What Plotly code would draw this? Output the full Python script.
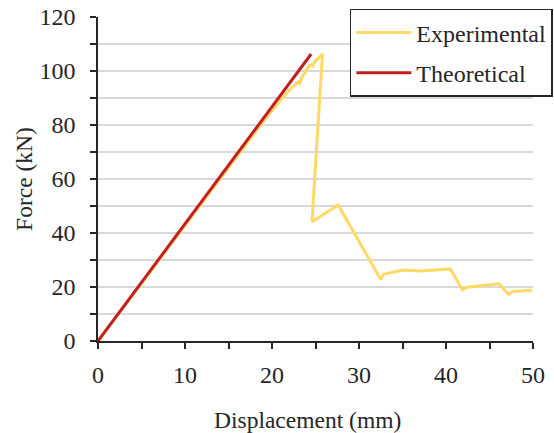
import plotly.graph_objects as go

exp_x = [0, 10, 15, 18, 20, 21.5, 22.5, 23.0, 23.2, 23.4, 23.8, 24.2, 24.5, 24.7, 24.9, 25.3, 25.8,
         24.6, 27.6, 32.5, 32.8, 35.1, 37.0, 40.5, 41.9, 42.4, 44.3, 46.1, 47.2, 47.7, 49.9]
exp_y = [0, 43.0, 64.4, 77.0, 85.3, 91.2, 94.6, 96.0, 95.4, 97.4, 99.4, 101.6, 102.4, 101.8, 103.4, 104.6, 106.3,
         44.2, 50.4, 22.8, 24.7, 26.3, 25.9, 26.7, 18.9, 19.9, 20.7, 21.2, 17.3, 18.3, 18.8]

theo_x = [0, 24.5]
theo_y = [0, 106.3]

x_ticks = [0, 5, 10, 15, 20, 25, 30, 35, 40, 45, 50]
x_labels = ["0", "", "10", "", "20", "", "30", "", "40", "", "50"]
y_ticks = [0, 10, 20, 30, 40, 50, 60, 70, 80, 90, 100, 110, 120]
y_labels = ["0", "", "20", "", "40", "", "60", "", "80", "", "100", "", "120"]

x_title = "Displacement (mm)"
y_title = "Force (kN)"

FONT = "Liberation Serif"
INK = "#262626"

fig = go.Figure()
fig.add_trace(go.Scatter(x=exp_x, y=exp_y, mode="lines", name="Experimental",
                         line=dict(color="#FFD966", width=3), legendgroup="a"))
fig.add_trace(go.Scatter(x=theo_x, y=theo_y, mode="lines", name="Theoretical",
                         line=dict(color="#C0211F", width=3), legendgroup="b"))

fig.add_annotation(text=x_title, xref="paper", yref="paper", x=0.4816, y=(341 - 420) / 324,
                   xanchor="center", yanchor="middle", showarrow=False,
                   font=dict(family=FONT, size=23.5, color=INK))

fig.update_layout(
    width=554, height=433,
    margin=dict(l=98, r=21, t=17, b=92, autoexpand=False),
    paper_bgcolor="white", plot_bgcolor="white",
    font=dict(family=FONT, size=24, color=INK),
    legend=dict(x=0.579, y=1.025, xanchor="left", yanchor="top",
                bordercolor=INK, borderwidth=1.5, bgcolor="white",
                font=dict(family=FONT, size=24, color=INK),
                traceorder="grouped", tracegroupgap=6, itemwidth=55),
    xaxis=dict(range=[0, 50], tickvals=x_ticks, ticktext=x_labels,
               showgrid=False, zeroline=False,
               showline=True, linecolor=INK, linewidth=1.5,
               ticks="outside", ticklen=6, tickwidth=1.5, tickcolor=INK,
               ticklabelstandoff=5,
               tickfont=dict(family=FONT, size=24, color=INK)),
    yaxis=dict(range=[0, 120], tickvals=y_ticks, ticktext=y_labels,
               showgrid=True, gridcolor="#D9D9D9", gridwidth=1.5, zeroline=False,
               showline=True, linecolor=INK, linewidth=1.5,
               ticks="outside", ticklen=6, tickwidth=1.5, tickcolor=INK,
               ticklabelstandoff=10,
               tickfont=dict(family=FONT, size=24, color=INK),
               title=dict(text=y_title, standoff=0, font=dict(family=FONT, size=23.5, color=INK))),
)

fig.write_html("out.html")
